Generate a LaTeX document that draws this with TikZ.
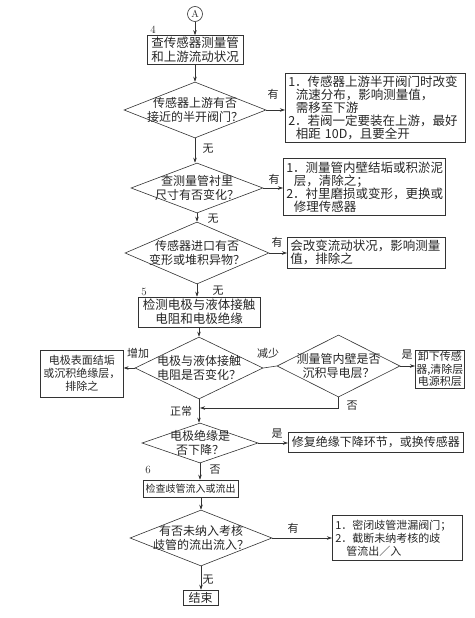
\documentclass[tikz,border=0pt]{standalone}
\usepackage{fontspec}
\newfontfamily\cjk{Noto Sans CJK SC}
\usetikzlibrary{arrows.meta,positioning,shapes.geometric}
\begin{document}
\begin{tikzpicture}[x=1pt,y=-1pt,>={Stealth[length=5pt,width=3.5pt]},line width=0.6pt,draw=black!80,
every node/.style={font=\cjk\fontsize{12}{13.5}\selectfont,text=black!85},
proc/.style={draw=black!80,rectangle,inner sep=1pt,align=center},
dec/.style={draw=black!80,diamond,aspect=2.5,inner sep=-4pt,align=center},
note/.style={draw=black!80,rectangle,inner xsep=3pt,inner ysep=2pt,align=left,anchor=north west,font=\cjk\fontsize{12.5}{13}\selectfont},
lbl/.style={inner sep=0pt,font=\cjk\fontsize{11}{11}\selectfont},
num/.style={inner sep=0pt,font=\rmfamily\fontsize{11}{11}\selectfont}]
\useasboundingbox (0,0) rectangle (474,618);
\node[draw=black!80,circle,inner sep=0pt,minimum size=15pt,font=\rmfamily\fontsize{10}{10}\selectfont] (A) at (195,14) {A};
\node[num] (n4) at (153,30) {4};
\node[proc,minimum width=96pt,minimum height=29pt,font=\cjk\fontsize{12.5}{14}\selectfont] (B4) at (195,50) {查传感器测量管\\和上游流动状况};
\node[dec,minimum width=142pt,minimum height=56pt] (D1) at (195,110) {传感器上游有否\\接近的半开阀门？};
\node[note,text width=174pt,minimum height=69pt] (N1) at (285,73) {1．传感器上游半开阀门时改变\\\hspace*{0.6em}流速分布，影响测量值，\\\hspace*{0.6em}需移至下游\\2．若阀一定要装在上游，最好\\\hspace*{0.6em}相距 10D，且要全开};
\node[dec,minimum width=132pt,minimum height=50pt] (D2) at (197,188) {查测量管衬里\\尺寸有否变化？};
\node[note,text width=156pt,minimum height=57pt] (N2) at (283,158) {1．测量管内壁结垢或积淤泥\\\hspace*{0.6em}层，清除之；\\2．衬里磨损或变形，更换或\\\hspace*{0.6em}修理传感器};
\node[dec,minimum width=144pt,minimum height=62pt] (D3) at (197,253) {传感器进口有否\\变形或堆积异物？};
\node[note,text width=152pt,minimum height=31pt] (N3) at (287,237) {会改变流动状况，影响测量\\值，排除之};
\node[num] (n5) at (144,292) {5};
\node[proc,minimum width=122pt,minimum height=30pt,font=\cjk\fontsize{12.5}{14}\selectfont] (B5) at (199,312) {检测电极与液体接触\\电阻和电极绝缘};
\node[dec,minimum width=128pt,minimum height=62pt] (D4) at (199,368) {电极与液体接触\\电阻是否变化？};
\node[proc,anchor=north west,minimum width=83pt,minimum height=47pt,inner sep=2pt,font=\cjk\fontsize{11}{13}\selectfont] (N4) at (40,350) {电极表面结垢\\或沉积绝缘层，\\排除之};
\node[dec,minimum width=123pt,minimum height=62pt] (D5) at (338.5,366) {测量管内壁是否\\沉积导电层？};
\node[proc,anchor=north west,minimum width=48pt,minimum height=38pt,font=\cjk\fontsize{11}{12.5}\selectfont] (N5) at (415,350) {卸下传感\\器,清除层\\电源积层};
\coordinate (M) at (200,408);
\node[dec,minimum width=116pt,minimum height=40pt] (D6) at (200,443) {电极绝缘是\\否下降？};
\node[proc,anchor=north west,minimum width=175pt,minimum height=20pt] (N6) at (288,432) {修复绝缘下降环节，或换传感器};
\node[num] (n6) at (148,470) {6};
\node[proc,minimum width=95pt,minimum height=17pt,font=\cjk\fontsize{10}{11}\selectfont] (B6) at (190.5,488.5) {检查歧管流入或流出};
\node[dec,minimum width=142pt,minimum height=56pt] (D7) at (201,538) {有否未纳入考核\\歧管的流出流入？};
\node[note,text width=124pt,minimum height=45pt,font=\cjk\fontsize{11}{13}\selectfont] (N7) at (332,515) {1．密闭歧管泄漏阀门；\\2．截断未纳考核的歧\\\hspace*{1em}管流出／入};
\node[proc,minimum width=35pt,minimum height=15pt] (E) at (200.5,597.5) {结束};
\node[lbl] (y1) at (273,94) {有};\node[lbl] (w1) at (208,149) {无};
\node[lbl] (y2) at (274,179) {有};\node[lbl] (w2) at (213,219) {无};
\node[lbl] (y3) at (277,242) {有};\node[lbl] (w3) at (218,291) {无};
\node[lbl] (up) at (138,353) {增加};\node[lbl] (dn) at (268,353) {减少};
\node[lbl] (s5) at (407,355) {是};\node[lbl] (f5) at (352,406) {否};\node[lbl] (ok) at (181,411) {正常};
\node[lbl] (s6) at (277,434) {是};\node[lbl] (f6) at (215,470) {否};
\node[lbl] (y7) at (293,528) {有};\node[lbl] (w7) at (208,580) {无};
\draw[->](A)--(B4);\draw[->](B4)--(D1);\draw[->](D1.east)--(D1.east-|N1.west);\draw[->](D1.south)--(D1.south|-D2.north);
\draw[->](D2.east)--(D2.east-|N2.west);\draw[->](D2.south)--(D2.south|-D3.north);\draw[->](D3.east)--(D3.east-|N3.west);
\draw[->](D3.south)--(D3.south|-B5.north);\draw[->](B5)--(D4);\draw[->](D4.west)--(D4.west-|N4.east);\draw(D4.east)--(D5.west);
\draw[->](D5.east)--(D5.east-|N5.west);\draw[->](D5.south)|-(M);\draw[->](D4.south)--(D4.south|-D6.north);
\draw[->](D6.east)--(D6.east-|N6.west);\draw[->](D6.south)--(D6.south|-B6.north);\draw[->](B6.south-|D7.north)--(D7.north);
\draw[->](D7.east)--(D7.east-|N7.west);\draw[->](D7.south)--(D7.south|-E.north);
\end{tikzpicture}
\end{document}
